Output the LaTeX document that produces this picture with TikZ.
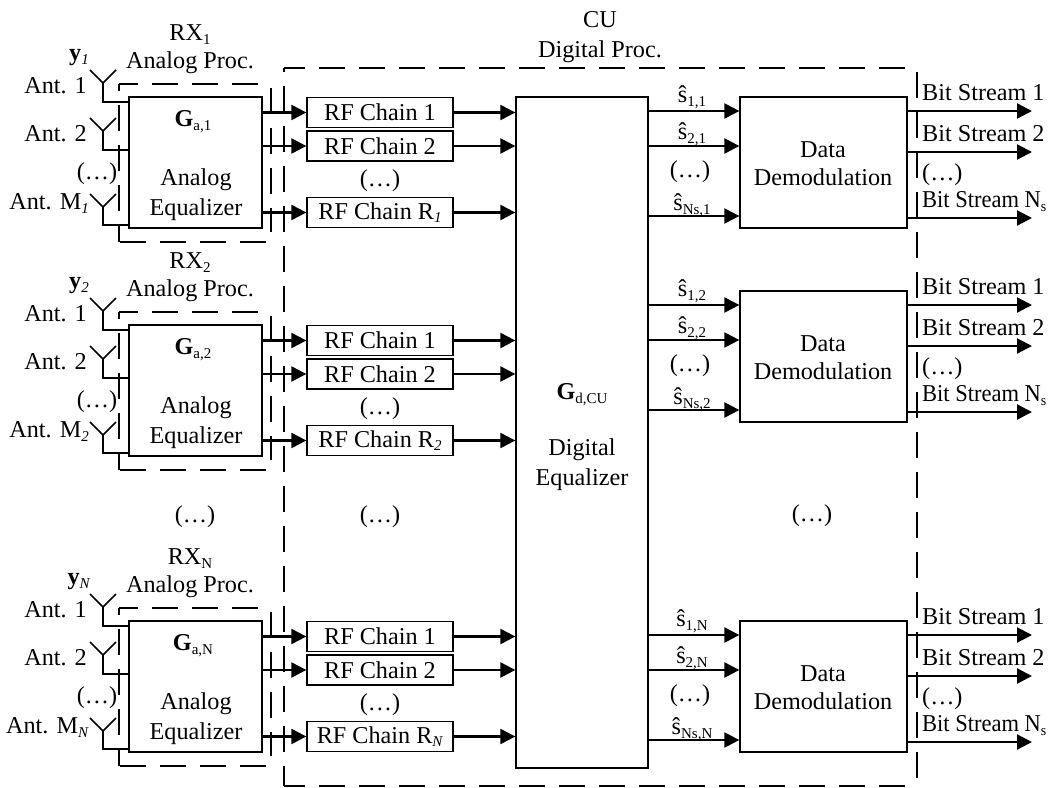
\documentclass[tikz,border=0pt]{standalone}
\usepackage{fontspec}
\setmainfont{Liberation Serif}
\usetikzlibrary{arrows.meta,calc}
\newcommand{\lowtxt}[1]{\raisebox{-3.5pt}{\fontsize{15}{15}\selectfont #1}}
\tikzset{
  lbl/.style={inner sep=0pt,text height=16pt,text depth=1pt,font=\fontsize{24.2}{26}\selectfont},
  blockbox/.style={draw,line width=1.3pt,inner sep=0pt,align=center,font=\fontsize{24.2}{26}\selectfont},
  rfbox/.style={blockbox,minimum width=146pt,minimum height=30pt},
  conn/.style={line width=2.2pt,-{Triangle[length=15pt,width=15pt]}},
  wire/.style={line width=1.6pt},
  dashline/.style={line width=1.5pt,dash pattern=on 26pt off 14pt},
}
\begin{document}
\begin{tikzpicture}[x=1pt,y=-1pt]
\useasboundingbox (0,0) rectangle (1060,787);
\node[lbl] (cu) at (600,20) {CU};
\node[lbl] (dp) at (600,50) {Digital Proc.};
\coordinate (cutl) at (284,68);
\coordinate (cutr) at (906,68);
\coordinate (curt) at (917,72);
\coordinate (cubl) at (284,786);
\coordinate (cubr) at (917,786);
\draw[dashline,dash phase=5pt] (cutl) -- (cutr);
\draw[dashline,dash phase=22pt] (cutl) -- (cubl);
\draw[dashline] (curt) -- (cubr);
\draw[dashline,dash phase=5pt] (cubl) -- (cubr);
\node[blockbox,minimum width=132pt,minimum height=671pt] (dig) at (582,432.5) {};
\node[lbl] (dg) at (582,392) {\textbf{G}\lowtxt{d,CU}};
\node[lbl] (dt) at (582,448) {Digital};
\node[lbl] (de) at (582,478) {Equalizer};
\node[lbl] (m1) at (195,515) {(…)};
\node[lbl] (m2) at (380,515) {(…)};
\node[lbl] (m3) at (812,514) {(…)};
\foreach \k/\dy/\dd in {1/0/0,2/228/194,N/524/524}{
  % receiver labels
  \node[lbl] (rx\k) at (190,33+\dy) {RX\lowtxt{\k}};
  \node[lbl] (ap\k) at (190,61+\dy) {Analog Proc.};
  \node[lbl] (y\k) at (79,53+\dy) {\textbf{y}\lowtxt{\textit{\k}}};
  \node[lbl,anchor=east] (an1\k) at (87,86+\dy) {Ant. 1};
  \node[lbl,anchor=east] (an2\k) at (87,134+\dy) {Ant. 2};
  \node[lbl] (and\k) at (97,172+\dy) {(…)};
  \node[lbl,anchor=east] (anm\k) at (89,202+\dy) {Ant. M\lowtxt{\textit{\k}}};
  % analog dashed frame
  \coordinate (fbr\k) at (266,242+\dy);
  \coordinate (fbl\k) at (119,242+\dy);
  \coordinate (ftl\k) at (119,84+\dy);
  \coordinate (ftr\k) at (262,84+\dy);
  \coordinate (frt\k) at (271,88+\dy);
  \coordinate (frb\k) at (271,232+\dy);
  \draw[dashline] (fbr\k) -- (fbl\k);
  \draw[dashline,dash phase=9pt] (fbl\k) -- (ftl\k);
  \draw[dashline,dash phase=7pt] (ftl\k) -- (ftr\k);
  \draw[dashline] (frt\k) -- (frb\k);
  % analog equalizer
  \node[blockbox,minimum width=133pt,minimum height=131pt,fill=white] (g\k) at (195.5,162.5+\dy) {};
  \node[lbl] (gl\k) at (193,119+\dy) {\textbf{G}\lowtxt{a,\k}};
  \node[lbl] (gt\k) at (196,178+\dy) {Analog};
  \node[lbl] (ge\k) at (196,208+\dy) {Equalizer};
  % antennas
  \foreach \n/\ya/\yb in {a/83/102,b/131/150,c/207/225}{
    \coordinate (ant\n\k) at (103,\ya+\dy);
    \coordinate (tip\n\k) at (103,\yb+\dy);
    \draw[wire] ($(ant\n\k)+(-13,-13)$) -- (ant\n\k) -- ($(ant\n\k)+(13,-13)$);
    \draw[wire] (ant\n\k) -- (tip\n\k) -- (g\k.west |- tip\n\k);
  }
  % RF chains
  \node[rfbox] (ra\k) at (380,112.5+\dy) {RF Chain 1};
  \node[rfbox] (rb\k) at (380,146+\dy) {RF Chain 2};
  \node[rfbox] (rc\k) at (380,212.5+\dy) {RF Chain R\lowtxt{\textit{\k}}};
  \node[lbl] (rd\k) at (380,179+\dy) {(…)};
  \foreach \n in {a,b,c}{
    \draw[conn] (g\k.east |- r\n\k.west) -- (r\n\k.west);
    \draw[conn] (r\n\k.east) -- (dig.west |- r\n\k.east);
  }
  % demodulation
  \node[blockbox,minimum width=167pt,minimum height=131pt] (dm\k) at (823.5,162.5+\dd) {};
  \node[lbl] (dma\k) at (823,150+\dd) {Data};
  \node[lbl] (dmb\k) at (823,178+\dd) {Demodulation};
  \foreach \n/\yy in {a/111,b/146,c/216}{
    \coordinate (s\n\k) at (700,\yy+\dd);
    \draw[conn] (dig.east |- s\n\k) -- (dm\k.west |- s\n\k);
  }
  \node[lbl] (sa\k l) at (692,95+\dd) {ŝ\lowtxt{1,\k}};
  \node[lbl] (sb\k l) at (692,132+\dd) {ŝ\lowtxt{2,\k}};
  \node[lbl] (sd\k l) at (690,170+\dd) {(…)};
  \node[lbl] (sc\k l) at (692,203+\dd) {ŝ\lowtxt{Ns,\k}};
  % outputs
  \foreach \n/\yy in {a/111,b/152,c/218}{
    \coordinate (oe\n\k) at (1032,\yy+\dd);
    \draw[conn] (dm\k.east |- oe\n\k) -- (oe\n\k);
  }
  \node[lbl,anchor=west] (oa\k) at (922,93+\dd) {Bit Stream 1};
  \node[lbl,anchor=west] (ob\k) at (922,134+\dd) {Bit Stream 2};
  \node[lbl,anchor=west] (od\k) at (922,173+\dd) {(…)};
  \node[lbl,anchor=west] (oc\k) at (922,200+\dd) {\scalebox{.93}[1]{Bit Stream N\lowtxt{s}}};
}
\end{tikzpicture}
\end{document}
